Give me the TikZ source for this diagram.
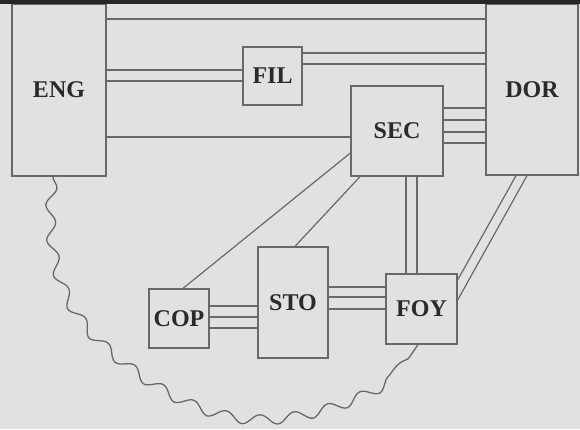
\documentclass[tikz,border=0pt]{standalone}
\usepackage{fontspec}
\setmainfont{Liberation Serif}
\usetikzlibrary{decorations.pathmorphing}
\definecolor{bg}{HTML}{E1E1E1}
\definecolor{bar}{HTML}{262626}
\definecolor{ln}{HTML}{686868}
\definecolor{tx}{HTML}{2A2A2A}
\begin{document}
\begin{tikzpicture}[x=1pt,y=-1pt,
  blk/.style={draw=ln,line width=1.3pt,fill=bg,inner sep=0pt,text=tx,
    font=\fontsize{24}{24}\selectfont\bfseries},
  wire/.style={draw=ln,line width=1.2pt},
  wavy/.style={draw=ln,line width=1.3pt,decorate,
    decoration={snake,amplitude=5pt,segment length=35pt}}]
\useasboundingbox (0,0) rectangle (580,429);
\fill[bg] (0,0) rectangle (580,429);
% boxes: center, width, height
\node[blk,minimum width=94pt,minimum height=172pt] (ENG) at (59,90) {ENG};
\node[blk,minimum width=92pt,minimum height=171pt] (DOR) at (532,89.5) {DOR};
\node[blk,minimum width=59pt,minimum height=58pt] (FIL) at (272.5,76) {FIL};
\node[blk,minimum width=92pt,minimum height=90pt] (SEC) at (397,131) {SEC};
\node[blk,minimum width=70pt,minimum height=111pt] (STO) at (293,302.5) {STO};
\node[blk,minimum width=60pt,minimum height=59pt] (COP) at (179,318.5) {COP};
\node[blk,minimum width=71pt,minimum height=70pt] (FOY) at (421.5,309) {FOY};
% ENG - DOR
\draw[wire] (ENG.east |- 0,19) -- (DOR.west |- 0,19);
% ENG - FIL
\foreach \y in {70,81} \draw[wire] (ENG.east |- 0,\y) -- (FIL.west |- 0,\y);
% FIL - DOR
\foreach \y in {53,64} \draw[wire] (FIL.east |- 0,\y) -- (DOR.west |- 0,\y);
% ENG - SEC
\draw[wire] (ENG.east |- 0,137) -- (SEC.west |- 0,137);
% SEC - DOR
\foreach \y in {108,120,132,143} \draw[wire] (SEC.east |- 0,\y) -- (DOR.west |- 0,\y);
% SEC - FOY
\foreach \x in {406,417} \draw[wire] (SEC.south -| \x,0) -- (FOY.north -| \x,0);
% COP - STO
\foreach \y in {306,317,328} \draw[wire] (COP.east |- 0,\y) -- (STO.west |- 0,\y);
% STO - FOY
\foreach \y in {287,297,309} \draw[wire] (STO.east |- 0,\y) -- (FOY.west |- 0,\y);
% diagonals
\draw[wire] (COP.north -| 183,0) -- (SEC.west |- 0,153);
\draw[wire] (STO.north -| 295,0) -- (SEC.south -| 360,0);
% DOR - FOY double
\draw[wire] (DOR.south -| 516,0) -- (FOY.east |- 0,280);
\draw[wire] (DOR.south -| 527,0) -- (FOY.east |- 0,300);
% wavy
\coordinate (w0) at (ENG.south -| 53,0);
\coordinate (w1) at (FOY.south -| 418,0);
\draw[wavy] (w0) .. controls (46,250) and (62,300) .. (110,342)
  .. controls (158,384) and (210,412) .. (265,411)
  .. controls (320,410) and (400,380) .. (w1);
% top bar
\fill[bar] (0,0) rectangle (580,4);
\end{tikzpicture}
\end{document}
